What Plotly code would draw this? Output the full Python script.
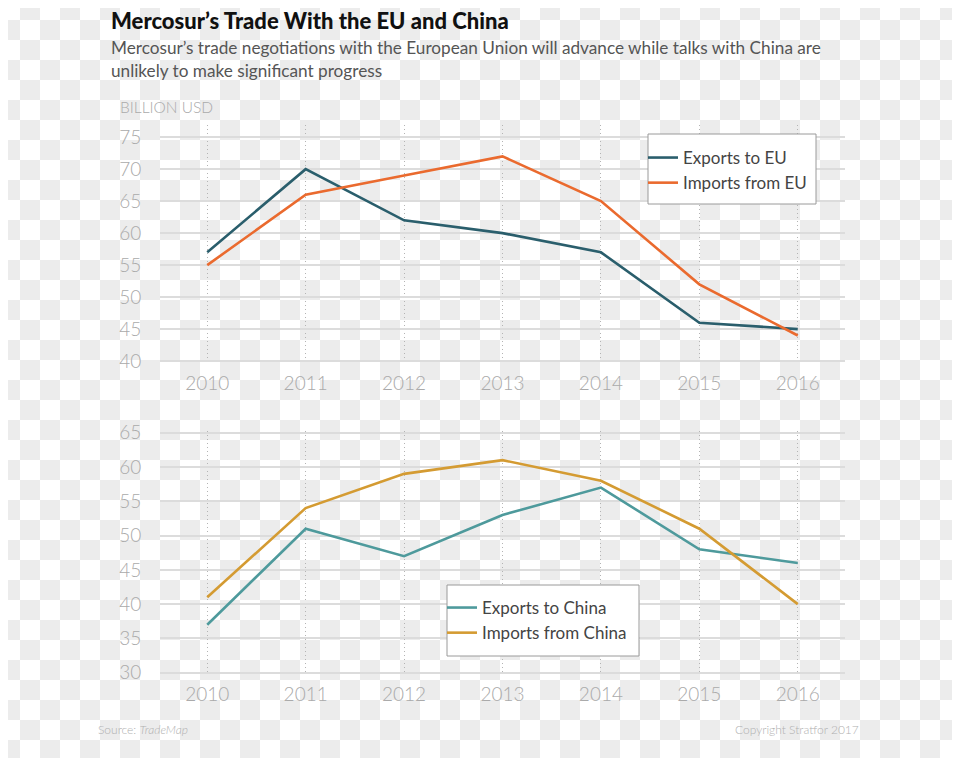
import zlib, struct, base64
import plotly.graph_objects as go

# ---------------- data ----------------
years = [2010, 2011, 2012, 2013, 2014, 2015, 2016]
exports_eu = [57, 70, 62, 60, 57, 46, 45]
imports_eu = [55, 66, 69, 72, 65, 52, 44]
exports_china = [37, 51, 47, 53, 57, 48, 46]
imports_china = [41, 54, 59, 61, 58, 51, 40]
top_ticks = [40, 45, 50, 55, 60, 65, 70, 75]
bottom_ticks = [30, 35, 40, 45, 50, 55, 60, 65]

# page body has an 8px margin: figure is placed at (8, 8) on screen
OFF = 8
W, H = 960 - OFF, 758 - OFF

# ---------------- checkerboard background (transparent-PNG look) ----------------
def checker_png(w, h, off, cell=20, c1=(255, 255, 255), c2=(236, 236, 236)):
    def row(parity):
        b = bytearray()
        for x in range(w):
            i = (x + off) // cell
            b += bytes(c2 if (i + parity) % 2 else c1)
        return bytes(b)
    rows = [row(0), row(1)]
    raw = b"".join(b"\x00" + rows[((y + off) // cell) % 2] for y in range(h))

    def chunk(t, d):
        return struct.pack(">I", len(d)) + t + d + struct.pack(">I", zlib.crc32(t + d) & 0xFFFFFFFF)

    png = b"\x89PNG\r\n\x1a\n"
    png += chunk(b"IHDR", struct.pack(">IIBBBBB", w, h, 8, 2, 0, 0, 0))
    png += chunk(b"IDAT", zlib.compress(raw, 9))
    png += chunk(b"IEND", b"")
    return "data:image/png;base64," + base64.b64encode(png).decode()

bg = checker_png(W, H, OFF)

# screen pixel -> paper coordinate
def px(x):
    return (x - OFF) / W

def py(y):
    return 1 - (y - OFF) / H

C_EXP_EU = "#2a5e6c"
C_IMP_EU = "#ea6a2e"
C_EXP_CN = "#4e9a9c"
C_IMP_CN = "#d49b32"

fig = go.Figure()
fig.add_trace(go.Scatter(x=years, y=exports_eu, mode="lines", name="Exports to EU",
                         line=dict(color=C_EXP_EU, width=2.6), xaxis="x", yaxis="y", legend="legend"))
fig.add_trace(go.Scatter(x=years, y=imports_eu, mode="lines", name="Imports from EU",
                         line=dict(color=C_IMP_EU, width=2.6), xaxis="x", yaxis="y", legend="legend"))
fig.add_trace(go.Scatter(x=years, y=exports_china, mode="lines", name="Exports to China",
                         line=dict(color=C_EXP_CN, width=2.6), xaxis="x2", yaxis="y2", legend="legend2"))
fig.add_trace(go.Scatter(x=years, y=imports_china, mode="lines", name="Imports from China",
                         line=dict(color=C_IMP_CN, width=2.6), xaxis="x2", yaxis="y2", legend="legend2"))

tickfont = dict(family="Lato", size=19, color="#aaaaaa", weight=300)
xdom = [px(160), px(845)]
xcommon = dict(domain=xdom, range=[2009.52, 2016.48], tickvals=years, showgrid=True,
               griddash="1px,3px", gridcolor="#b4b4b4", gridwidth=1, zeroline=False, showline=False,
               ticks="outside", ticklen=3, tickcolor="rgba(0,0,0,0)", tickfont=tickfont,
               automargin=False, fixedrange=True)
ycommon = dict(dtick=5, showgrid=True, gridcolor="#dcdcdc", gridwidth=1.5, zeroline=False,
               showline=False, ticks="outside", ticklen=14, tickcolor="rgba(0,0,0,0)",
               tickfont=tickfont, automargin=False, fixedrange=True)

legend_common = dict(bgcolor="rgba(0,0,0,0)", borderwidth=0,
                     font=dict(family="Lato", size=17, color="#444444"),
                     xanchor="left", yanchor="top", itemwidth=30, tracegroupgap=0)

def box(x0, y0, x1, y1):
    return dict(type="rect", xref="paper", yref="paper", x0=px(x0), x1=px(x1), y0=py(y1), y1=py(y0),
                fillcolor="white", line=dict(color="#9a9a9a", width=1), layer="above")

fig.update_layout(
    width=W, height=H,
    margin=dict(l=0, r=0, t=0, b=0, autoexpand=False),
    paper_bgcolor="white",
    plot_bgcolor="rgba(0,0,0,0)",
    font=dict(family="Lato"),
    xaxis=dict(**xcommon, anchor="y"),
    yaxis=dict(**ycommon, domain=[py(363), py(125)], range=[39.7, 76.9],
               tickvals=top_ticks, anchor="x"),
    xaxis2=dict(**xcommon, anchor="y2"),
    yaxis2=dict(**ycommon, domain=[py(674), py(431)], range=[29.81, 65.25],
                tickvals=bottom_ticks, anchor="x2"),
    legend=dict(**legend_common, x=px(643), y=py(140)),
    legend2=dict(**legend_common, x=px(442), y=py(590)),
    shapes=[box(648, 134, 816, 204), box(447, 585, 639, 656)],
    images=[dict(source=bg, xref="paper", yref="paper", x=0, y=1, sizex=1, sizey=1,
                 xanchor="left", yanchor="top", sizing="stretch", layer="below")],
    annotations=[
        dict(text="Mercosur’s Trade With the EU and China", x=px(109), y=py(20),
             xref="paper", yref="paper", xanchor="left", yanchor="middle", showarrow=False,
             font=dict(family="Lato", size=22, color="#111111", weight=900)),
        dict(text="Mercosur’s trade negotiations with the European Union will advance while talks with China are",
             x=px(109), y=py(47), xref="paper", yref="paper", xanchor="left", yanchor="middle",
             showarrow=False, font=dict(family="Lato", size=17.2, color="#555555")),
        dict(text="unlikely to make significant progress",
             x=px(109), y=py(71), xref="paper", yref="paper", xanchor="left", yanchor="middle",
             showarrow=False, font=dict(family="Lato", size=17.2, color="#555555")),
        dict(text="BILLION USD", x=px(118), y=py(107), xref="paper", yref="paper",
             xanchor="left", yanchor="middle", showarrow=False,
             font=dict(family="Lato", size=15.5, color="#aaaaaa", weight=300)),
        dict(text="Source: <i>TradeMap</i>", x=px(96), y=py(729), xref="paper", yref="paper",
             xanchor="left", yanchor="middle", showarrow=False,
             font=dict(family="Lato", size=12, color="#b0b0b0", weight=300)),
        dict(text="Copyright Stratfor 2017", x=px(861), y=py(729), xref="paper", yref="paper",
             xanchor="right", yanchor="middle", showarrow=False,
             font=dict(family="Lato", size=12, color="#b0b0b0", weight=300)),
    ],
)

fig.write_html("out.html", config={"displayModeBar": False})
